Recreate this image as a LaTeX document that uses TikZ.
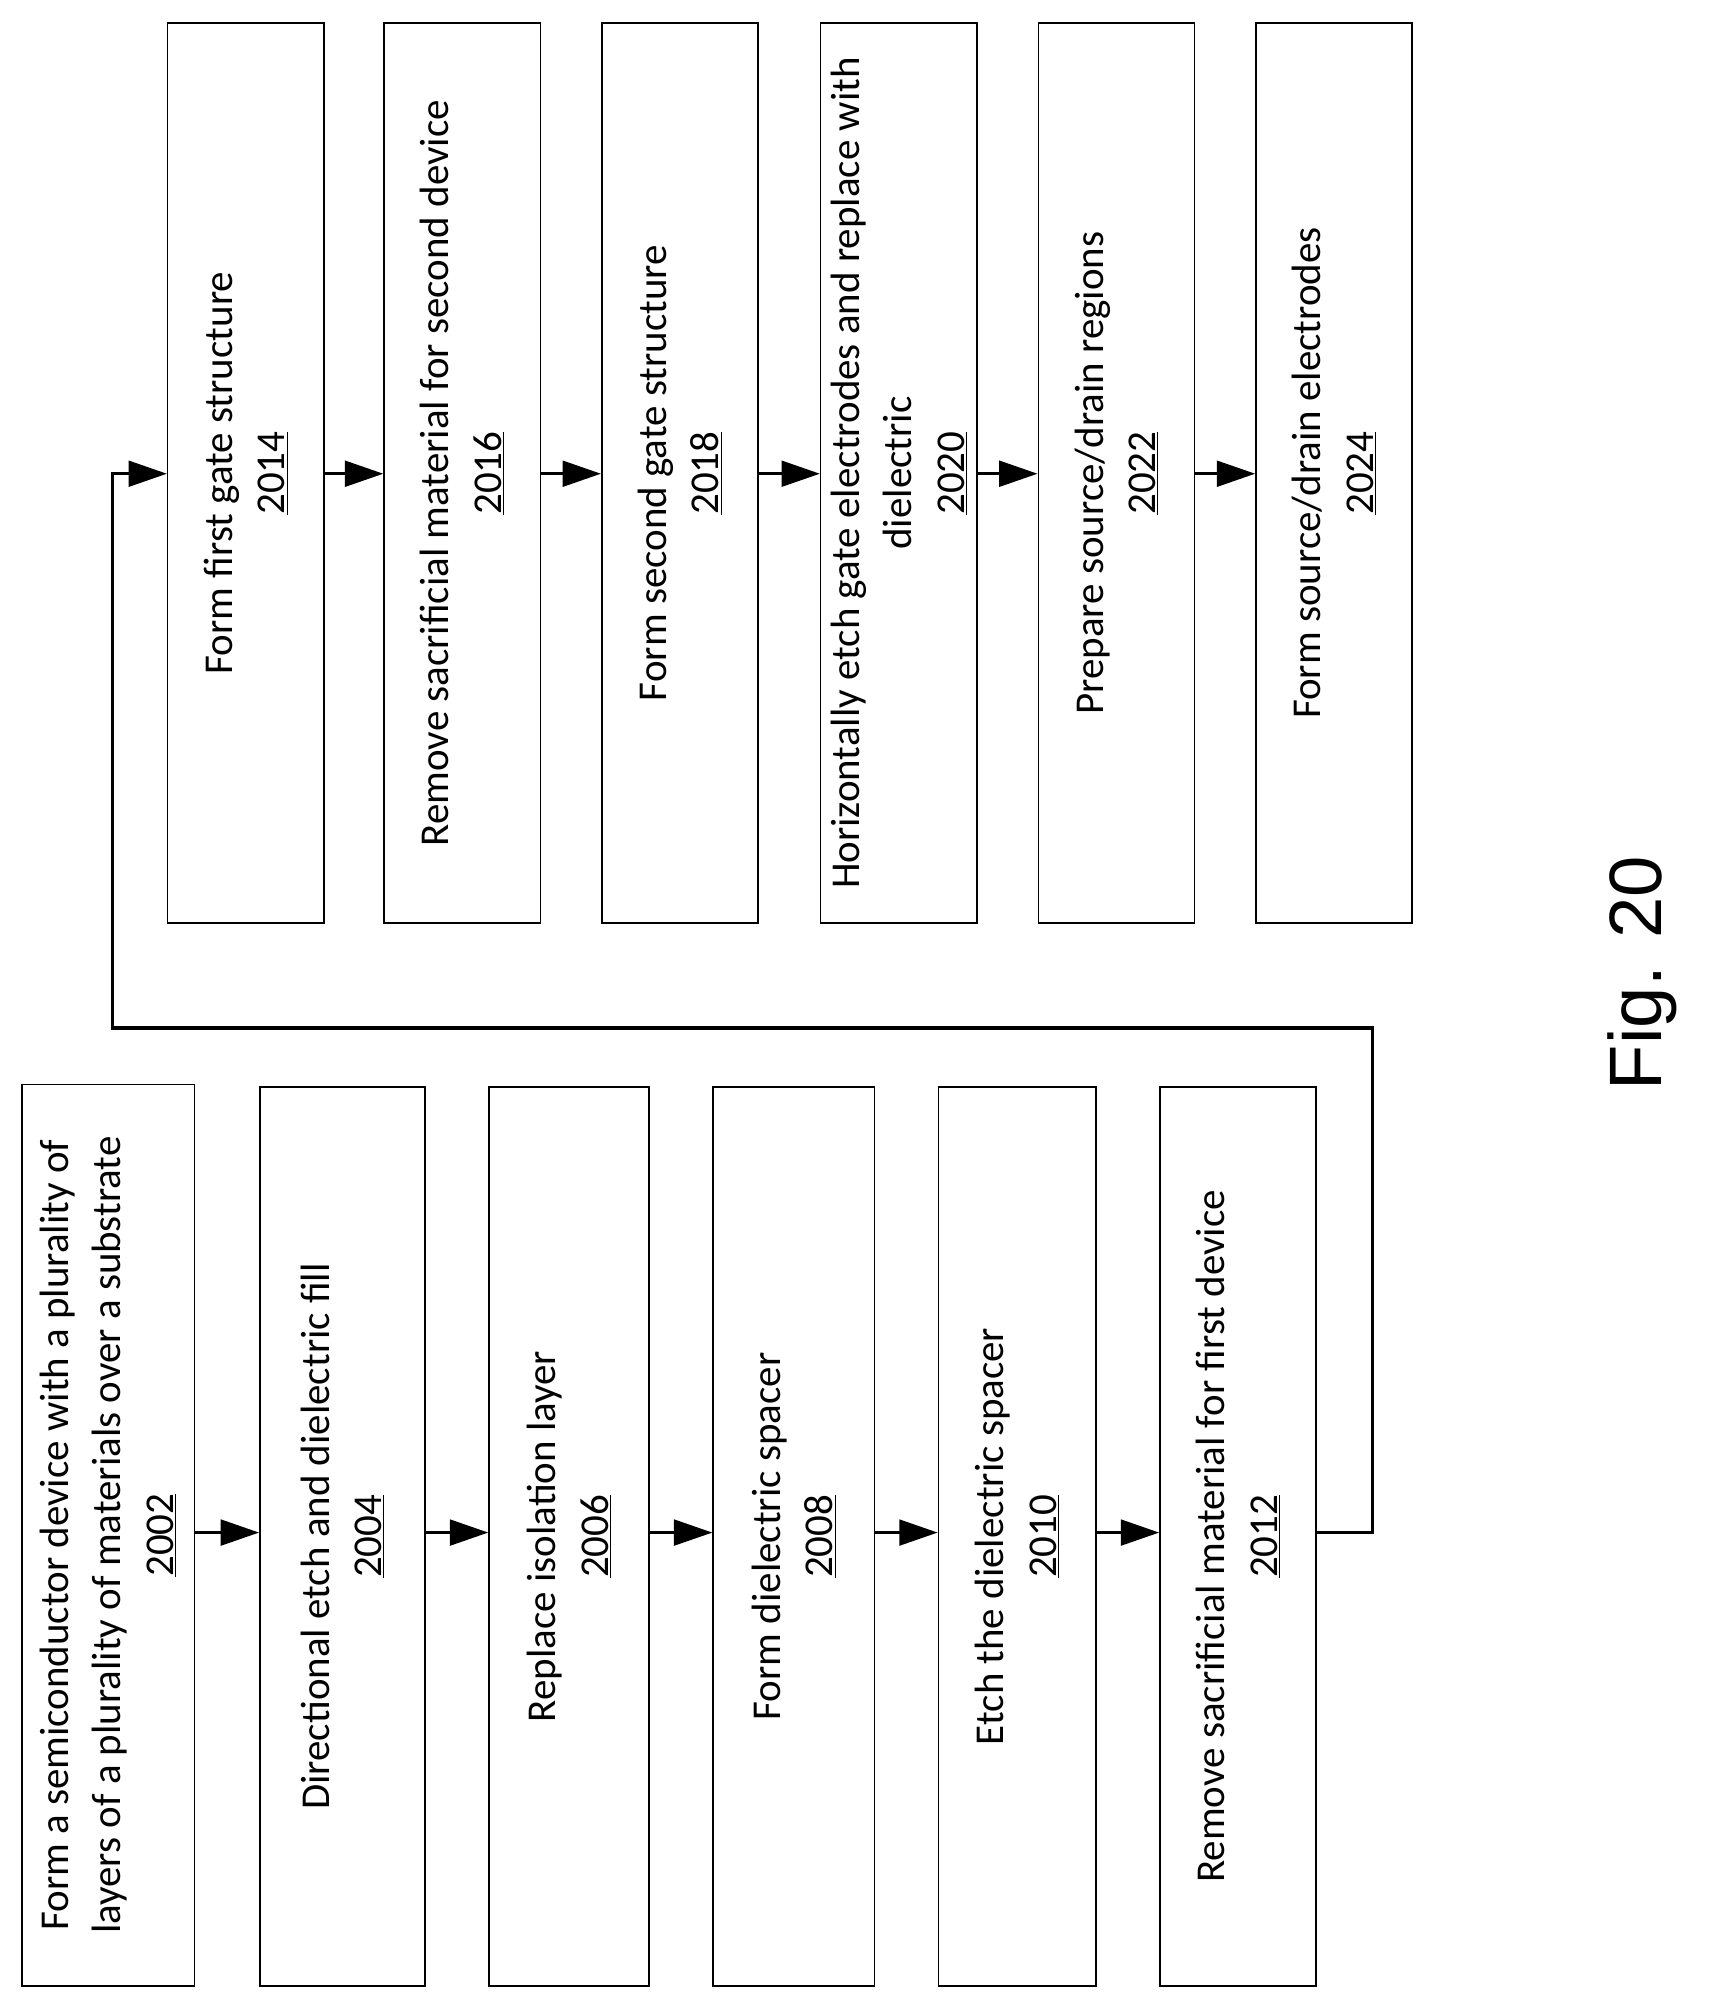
\documentclass[tikz,border=0pt]{standalone}
\usepackage{fontspec}
\setmainfont{Carlito}
\newfontfamily\figfont{Liberation Sans}
\usetikzlibrary{arrows.meta}
\begin{document}
\begin{tikzpicture}[x=1pt,y=-1pt,
 box/.style={draw,line width=1.2pt,inner sep=0pt},
 lbl/.style={rotate=90,align=center,font=\fontsize{32}{41}\selectfont},
 arr/.style={line width=2.6pt,-{Triangle[length=30pt,width=20pt]}}]
\useasboundingbox (0,0) rectangle (1340,1566);
\newcommand{\bx}[6]{%
 \node[box,minimum width={#3-#2},minimum height={#5-#4}] (#1) at ({(#2+#3)/2},{(#4+#5)/2}) {};
 \node[lbl] (t#1) at (#1.center) {#6};}
\bx{a}{17}{152}{847}{1551}{Form a semiconductor device with a plurality of\\layers of a plurality of materials over a substrate\\\underline{2002}}
\bx{b}{203}{332}{849}{1551}{Directional etch and dielectric fill\\\underline{2004}}
\bx{c}{382}{507}{849}{1551}{Replace isolation layer\\\underline{2006}}
\bx{d}{557}{683}{849}{1551}{Form dielectric spacer\\\underline{2008}}
\bx{e}{733}{856}{849}{1551}{Etch the dielectric spacer\\\underline{2010}}
\bx{f}{906}{1028}{849}{1551}{Remove sacrificial material for first device\\\underline{2012}}
\bx{g}{131}{253}{18}{721}{Form first gate structure\\\underline{2014}}
\bx{h}{300}{422}{18}{721}{Remove sacrificial material for second device\\\underline{2016}}
\bx{i}{470}{592}{18}{721}{Form second gate structure\\\underline{2018}}
\bx{j}{641}{763}{18}{721}{Horizontally etch gate electrodes and replace with\\dielectric\\\underline{2020}}
\bx{k}{811}{933}{18}{721}{Prepare source/drain regions\\\underline{2022}}
\bx{l}{981}{1103}{18}{721}{Form source/drain electrodes\\\underline{2024}}
\foreach \p/\q in {a/b,b/c,c/d,d/e,e/f}{\draw[arr] (\p.east|-0,1197) -- (\q.west|-0,1197);}
\foreach \p/\q in {g/h,h/i,i/j,j/k,k/l}{\draw[arr] (\p.east|-0,370) -- (\q.west|-0,370);}
\coordinate (c1) at (1072,1197);
\coordinate (c2) at (1072,803);
\coordinate (c3) at (88,803);
\coordinate (c4) at (88,370);
\draw[arr] (f.east|-0,1197) -- (c1) -- (c2) -- (c3) -- (c4) -- (g.west|-0,370);
\node[rotate=90,font=\figfont\fontsize{58}{60}\selectfont] (fig) at (1283,760) {Fig. 20};
\end{tikzpicture}
\end{document}
